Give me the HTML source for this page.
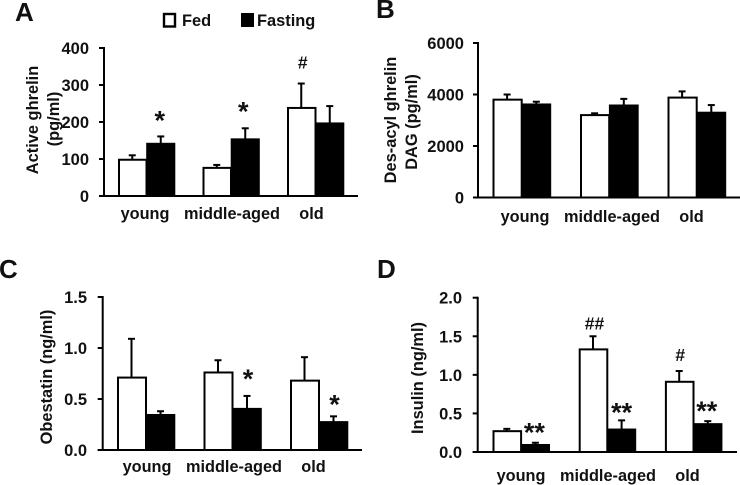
<!DOCTYPE html>
<html>
<head>
<meta charset="utf-8">
<style>
html,body{margin:0;padding:0;background:#fff}
svg{display:block;font-family:"Liberation Sans",sans-serif;font-weight:bold;fill:#111}
</style>
</head>
<body>
<svg id="figure" xmlns="http://www.w3.org/2000/svg" width="740" height="485" viewBox="0 0 740 485">
  <g>
    <rect x="164" y="14" width="11" height="12.5" fill="#fff" stroke="#000" stroke-width="2.4"/>
    <text x="182" y="26" font-size="16.4">Fed</text>
    <rect x="241" y="13" width="13" height="14" fill="#000"/>
    <text x="257" y="26" font-size="16.4">Fasting</text>
  </g>
</svg>
<script>
var categories = ['young', 'middle-aged', 'old'];

var aFed = [98, 76, 238];
var aFedTop = [110, 84, 304];
var aFasting = [143, 155, 198];
var aFastingTop = [161, 183, 243];
var aTicks = ['0', '100', '200', '300', '400'];

var bFed = [3800, 3200, 3880];
var bFedTop = [4000, 3270, 4120];
var bFasting = [3640, 3600, 3320];
var bFastingTop = [3720, 3830, 3590];
var bTicks = ['0', '2000', '4000', '6000'];

var cFed = [0.71, 0.76, 0.68];
var cFedTop = [1.09, 0.88, 0.91];
var cFasting = [0.35, 0.41, 0.28];
var cFastingTop = [0.38, 0.53, 0.33];
var cTicks = ['0.0', '0.5', '1.0', '1.5'];

var dFed = [0.27, 1.33, 0.91];
var dFedTop = [0.30, 1.50, 1.05];
var dFasting = [0.10, 0.30, 0.37];
var dFastingTop = [0.12, 0.41, 0.40];
var dTicks = ['0.0', '0.5', '1.0', '1.5', '2.0'];

var svg = document.getElementById('figure');
var NS = 'http://www.w3.org/2000/svg';
var labelOffsets = [0, 87, 166.5];

function make(tag, parent, attrs, txt) {
  var el = document.createElementNS(NS, tag);
  for (var k in attrs) el.setAttribute(k, attrs[k]);
  if (txt !== undefined) el.textContent = txt;
  parent.appendChild(el);
  return el;
}

function line(parent, x1, y1, x2, y2, w, name) {
  var el = make('line', parent, {x1: x1, y1: y1, x2: x2, y2: y2, stroke: '#000', 'stroke-width': w});
  
  
  return el;
}

function drawPanel(p) {
  var g = make('g', svg, {});
  
  

  var maxV = parseFloat(p.ticks[p.ticks.length - 1]);
  function y(v) { return p.y0 - (v / maxV) * (p.y0 - p.yTop); }
  function groupX(i) { return p.x0 + i * p.step; }

  var letter = make('text', g, {x: p.letterX, y: p.letterY, 'font-size': 26}, p.id);
  
  

  p.yTitle.forEach(function (t, i) {
    var title = make('text', g, {
      transform: 'translate(' + p.yTitleX[i] + ',' + p.yTitleY[i] + ') rotate(-90)',
      'text-anchor': 'middle', 'font-size': 16.4
    }, t);
    
    
  });

  categories.forEach(function (c, i) {
    var bw = p.barW;
    [[p.fed, p.fedTop, 'fed', 0], [p.fasting, p.fastingTop, 'fasting', 1]].forEach(function (s) {
      var left = groupX(i) + s[3] * bw;
      var mid = left + bw / 2;
      line(g, mid, y(s[0][i]), mid, y(s[1][i]), 2, 'error-bar-' + s[2] + '-' + c);
      line(g, mid - 3.5, y(s[1][i]), mid + 3.5, y(s[1][i]), 2, 'error-cap-' + s[2] + '-' + c);
      var isFed = s[3] === 0;
      var bar = make('rect', g, {
        x: left + (isFed ? 1 : 0),
        y: y(s[0][i]),
        width: bw - (isFed ? 1 : 0),
        height: p.y0 - y(s[0][i]),
        fill: isFed ? '#fff' : '#000',
        stroke: '#000',
        'stroke-width': isFed ? 2 : 0.6
      });
      
      
    });
    var lab = make('text', g, {x: p.labelX + labelOffsets[i], y: p.labelY, 'text-anchor': 'middle', 'font-size': 16.3}, c);
    
    
  });

  line(g, p.axisX, p.yTop - 1, p.axisX, p.y0 + 1, 2, 'y-axis-line');
  line(g, p.axisX - 5, p.y0, p.xEnd, p.y0, 2, 'x-axis-line');

  p.ticks.forEach(function (t) {
    var ty = y(parseFloat(t));
    line(g, p.axisX - 5, ty, p.axisX, ty, 2, 'y-tick');
    var lab = make('text', g, {x: p.tickRight, y: ty + 6, 'text-anchor': 'end', 'font-size': 16.5}, t);
    
    
  });

  p.marks.forEach(function (m) {
    var src = m.series === 0 ? p.fedTop : p.fastingTop;
    var mx = groupX(m.group) + (m.series + 0.5) * p.barW + m.dx;
    var isStar = m.text.charAt(0) === '*';
    var mark = make('text', g, {
      x: mx, y: y(src[m.group]) - m.gap,
      'text-anchor': 'middle', 'font-size': isStar ? 27 : 17.5
    }, m.text);
    
    
  });
}

drawPanel({id: 'A', letterX: 15, letterY: 21, fed: aFed, fedTop: aFedTop, fasting: aFasting, fastingTop: aFastingTop, ticks: aTicks,
  x0: 118, step: 84.5, barW: 28.5, y0: 196, yTop: 48, axisX: 104, xEnd: 358, tickRight: 89, labelX: 145, labelY: 219,
  yTitle: ['Active ghrelin', '(pg/ml)'], yTitleX: [38, 59], yTitleY: [120, 119],
  marks: [{group: 0, series: 1, text: '*', dx: -1, gap: 7}, {group: 1, series: 1, text: '*', dx: -2, gap: 8}, {group: 2, series: 0, text: '#', dx: 1.5, gap: 15}]});

drawPanel({id: 'B', letterX: 376, letterY: 18, fed: bFed, fedTop: bFedTop, fasting: bFasting, fastingTop: bFastingTop, ticks: bTicks,
  x0: 492.5, step: 87.5, barW: 29.2, y0: 197.5, yTop: 43, axisX: 478, xEnd: 740, tickRight: 464, labelX: 525, labelY: 222,
  yTitle: ['Des-acyl ghrelin', 'DAG (pg/ml)'], yTitleX: [396, 417], yTitleY: [120, 122],
  marks: []});

drawPanel({id: 'C', letterX: -1, letterY: 278, fed: cFed, fedTop: cFedTop, fasting: cFasting, fastingTop: cFastingTop, ticks: cTicks,
  x0: 117, step: 86.5, barW: 29, y0: 450, yTop: 297, axisX: 102.7, xEnd: 362, tickRight: 87, labelX: 147, labelY: 472,
  yTitle: ['Obestatin (ng/ml)'], yTitleX: [52], yTitleY: [377],
  marks: [{group: 1, series: 1, text: '*', dx: 1, gap: 8}, {group: 2, series: 1, text: '*', dx: 1, gap: 3}]});

drawPanel({id: 'D', letterX: 377, letterY: 278, fed: dFed, fedTop: dFedTop, fasting: dFasting, fastingTop: dFastingTop, ticks: dTicks,
  x0: 492.5, step: 86.2, barW: 28.6, y0: 452, yTop: 297.7, axisX: 477.7, xEnd: 737, tickRight: 462, labelX: 521, labelY: 481,
  yTitle: ['Insulin (ng/ml)'], yTitleX: [423], yTitleY: [378],
  marks: [{group: 0, series: 1, text: '**', dx: -1, gap: 1}, {group: 1, series: 1, text: '**', dx: 0, gap: -1}, {group: 2, series: 1, text: '**', dx: -1, gap: 1},
          {group: 1, series: 0, text: '##', dx: 1.5, gap: 7}, {group: 2, series: 0, text: '#', dx: 1, gap: 10}]});
</script>
</body>
</html>
